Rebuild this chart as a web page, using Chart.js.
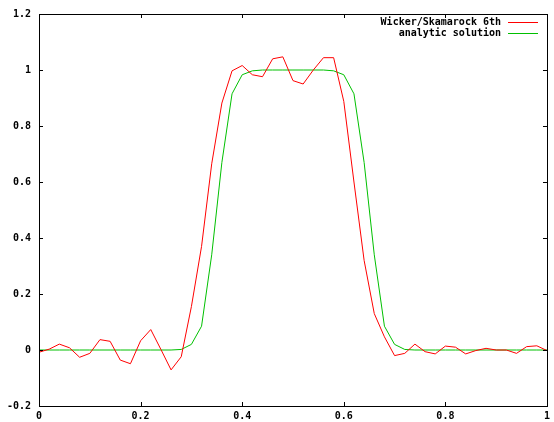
<!DOCTYPE html>
<html>
<head>
<meta charset="utf-8">
<script src="https://cdn.jsdelivr.net/npm/chart.js@4"></script>
<style>
    html, body { margin: 0; padding: 0; background: #ffffff; }
    #wrap { width: 554px; height: 422px; }
</style>
</head>
<body>
<div id="wrap"><canvas id="plot" width="554" height="422"></canvas></div>
<script>
//#region Data

const xValues = [
    0.00, 0.02, 0.04, 0.06, 0.08, 0.10, 0.12, 0.14, 0.16, 0.18,
    0.20, 0.22, 0.24, 0.26, 0.28, 0.30, 0.32, 0.34, 0.36, 0.38,
    0.40, 0.42, 0.44, 0.46, 0.48, 0.50, 0.52, 0.54, 0.56, 0.58,
    0.60, 0.62, 0.64, 0.66, 0.68, 0.70, 0.72, 0.74, 0.76, 0.78,
    0.80, 0.82, 0.84, 0.86, 0.88, 0.90, 0.92, 0.94, 0.96, 0.98,
    1.00
];

const wickerSkamarock = [
    -0.008, 0.003, 0.021, 0.008, -0.026, -0.012, 0.037, 0.031, -0.036, -0.049,
    0.033, 0.073, 0.002, -0.071, -0.024, 0.155, 0.370, 0.665, 0.882, 0.997,
    1.016, 0.983, 0.976, 1.040, 1.047, 0.962, 0.950, 1.000, 1.044, 1.044,
    0.888, 0.600, 0.320, 0.130, 0.047, -0.020, -0.012, 0.021, -0.006, -0.014,
    0.014, 0.010, -0.014, -0.002, 0.006, 0.000, 0.000, -0.012, 0.012, 0.015,
    -0.002
];

const analyticSolution = [
    0, 0, 0, 0, 0, 0, 0, 0, 0, 0,
    0, 0, 0, 0, 0.002, 0.020, 0.085, 0.340, 0.670, 0.915,
    0.983, 0.997, 1, 1, 1, 1, 1, 1, 1, 0.997,
    0.983, 0.915, 0.670, 0.340, 0.085, 0.020, 0.002, 0, 0, 0,
    0, 0, 0, 0, 0, 0, 0, 0, 0, 0,
    0
];

const seriesLabels = ['Wicker/Skamarock 6th', 'analytic solution'];

const xTickValues = [0, 0.2, 0.4, 0.6, 0.8, 1];
const xTickLabels = ['0', '0.2', '0.4', '0.6', '0.8', '1'];
const yTickValues = [-0.2, 0, 0.2, 0.4, 0.6, 0.8, 1, 1.2];
const yTickLabels = ['-0.2', '0', '0.2', '0.4', '0.6', '0.8', '1', '1.2'];

//#endregion

//#region Chart

const TICK_FONT = { family: "'DejaVu Sans Mono', monospace", size: 10, weight: 'bold' };

// Build {x, y} points from the arrays.
function toPoints(ys) {
    return xValues.map((x, i) => ({ x: x, y: ys[i] }));
}

// Frame, inward ticks on every side, and the gnuplot-like key.
const framePlugin = {
    id: 'frame',
    afterDatasetsDraw(chart) {
        const ctx = chart.ctx;
        const a = chart.chartArea;
        const xs = chart.scales.x;
        const ys = chart.scales.y;
        const len = 4;

        ctx.save();
        ctx.strokeStyle = '#000000';
        ctx.lineWidth = 1;
        ctx.beginPath();
        xTickValues.forEach(v => {
            const px = Math.round(xs.getPixelForValue(v)) + 0.5;
            ctx.moveTo(px, a.bottom); ctx.lineTo(px, a.bottom - len);
            ctx.moveTo(px, a.top); ctx.lineTo(px, a.top + len);
        });
        yTickValues.forEach(v => {
            const py = Math.round(ys.getPixelForValue(v)) + 0.5;
            ctx.moveTo(a.left, py); ctx.lineTo(a.left + len, py);
            ctx.moveTo(a.right, py); ctx.lineTo(a.right - len, py);
        });
        ctx.stroke();
        ctx.strokeRect(Math.round(a.left) + 0.5, Math.round(a.top) + 0.5,
            Math.round(a.right - a.left), Math.round(a.bottom - a.top));

        // Key, top right.
        ctx.font = 'bold 10px ' + TICK_FONT.family;
        ctx.textAlign = 'right';
        ctx.textBaseline = 'middle';
        chart.data.datasets.forEach((ds, i) => {
            const y = 22 + i * 11;
            ctx.fillStyle = '#000000';
            ctx.fillText(ds.label, 501, y);
            ctx.strokeStyle = ds.borderColor;
            ctx.beginPath();
            ctx.moveTo(508, y + 0.5);
            ctx.lineTo(538, y + 0.5);
            ctx.stroke();
        });
        ctx.restore();
    }
};

const ctx = document.getElementById('plot');

const config = {
    type: 'line',
    data: {
        datasets: [{
            label: seriesLabels[0],
            data: toPoints(wickerSkamarock),
            borderColor: '#ff0000',
            borderWidth: 1,
            pointRadius: 0,
            tension: 0
        }, {
            label: seriesLabels[1],
            data: toPoints(analyticSolution),
            borderColor: '#00c000',
            borderWidth: 1,
            pointRadius: 0,
            tension: 0
        }]
    },
    options: {
        animation: false,
        responsive: false,
        events: [],
        layout: {
            padding: { top: 12, right: 6, left: 0, bottom: 0 }
        },
        plugins: {
            legend: { display: false },
            tooltip: { enabled: false }
        },
        scales: {
            x: {
                type: 'linear',
                min: 0,
                max: 1,
                afterBuildTicks: scale => { scale.ticks = xTickValues.map(v => ({ value: v })); },
                afterFit: scale => { scale.height = 16; },
                grid: { display: false, drawTicks: false },
                border: { display: false },
                ticks: {
                    color: '#000000',
                    font: TICK_FONT,
                    padding: 4,
                    maxRotation: 0,
                    autoSkip: false,
                    callback: (v, i) => xTickLabels[i]
                }
            },
            y: {
                type: 'linear',
                min: -0.2,
                max: 1.2,
                afterBuildTicks: scale => { scale.ticks = yTickValues.map(v => ({ value: v })); },
                afterFit: scale => { scale.width = 39; },
                grid: { display: false, drawTicks: false },
                border: { display: false },
                ticks: {
                    color: '#000000',
                    font: TICK_FONT,
                    padding: 8,
                    autoSkip: false,
                    callback: (v, i) => yTickLabels[i]
                }
            }
        }
    },
    plugins: [framePlugin]
};

new Chart(ctx, config);

//#endregion
</script>
</body>
</html>
